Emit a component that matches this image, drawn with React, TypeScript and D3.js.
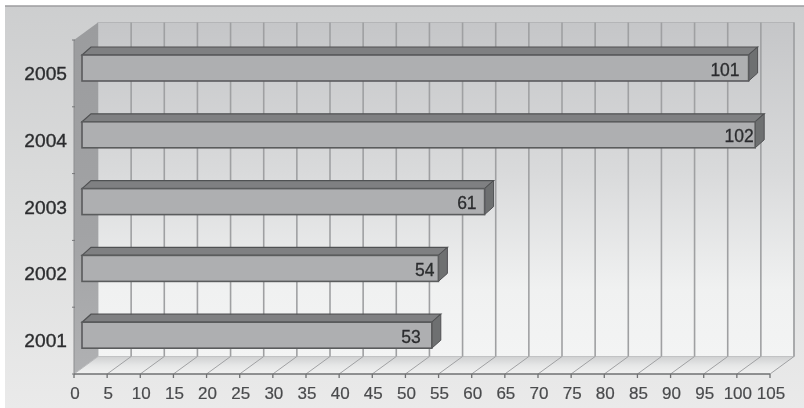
import React from "react";
import * as d3 from "d3";

const years = ["2005", "2004", "2003", "2002", "2001"];
const values = [101, 102, 61, 54, 53];
const xTicks = d3.range(0, 110, 5);

const W = 804, H = 408;
const x0 = 74, x1 = 770, yTop = 40, yBot = 374;
const dx = 24, dy = -17.5;
const barDx = 9, barDy = -8;

export default function App() {
  const x = d3.scaleLinear().domain([0, 105]).range([x0, x1]);
  const barX = d3.scaleLinear().domain([0, 105]).range([82, 775]);
  const y = d3.scaleBand<string>().domain(years).range([yTop, yBot]);
  const band = y.bandwidth();
  const font = "'Liberation Sans', Arial, sans-serif";
  const gridColor = "#9fa0a2";
  const labelInset: Record<string, number> = { "2005": 9, "2004": 1.5, "2003": 8, "2002": 4, "2001": 11 };
  const poly = (p: number[][]) => p.map(q => q.join(",")).join(" ");
  return (
    <svg width={W} height={H} viewBox={`0 0 ${W} ${H}`} style={{ position: "absolute", left: 0, top: 0, display: "block" }}>
      <defs>
        <linearGradient id="panel" x1="0" x2="0" y1="0" y2="1">
          <stop offset="0" stopColor="#cdcecf" />
          <stop offset="0.5" stopColor="#dcdddd" />
          <stop offset="1" stopColor="#eaeaea" />
        </linearGradient>
        <linearGradient id="wall" x1="0" x2="0" y1="0" y2="1">
          <stop offset="0" stopColor="#c5c6c8" />
          <stop offset="0.45" stopColor="#d9dadb" />
          <stop offset="0.8" stopColor="#f0f1f1" />
          <stop offset="1" stopColor="#f3f4f4" />
        </linearGradient>
        <linearGradient id="side" x1="0" x2="0" y1="0" y2="1">
          <stop offset="0" stopColor="#9b9c9e" />
          <stop offset="0.6" stopColor="#a2a3a5" />
          <stop offset="1" stopColor="#b0b1b3" />
        </linearGradient>
        <linearGradient id="floor" x1="0" x2="0" y1="0" y2="1">
          <stop offset="0" stopColor="#cfd0d1" />
          <stop offset="0.5" stopColor="#e6e7e7" />
          <stop offset="1" stopColor="#f1f1f1" />
        </linearGradient>
        <filter id="soft" x="-2%" y="-2%" width="104%" height="104%">
          <feGaussianBlur stdDeviation="0.7" />
        </filter>
      </defs>
      <rect x={0} y={0} width={W} height={H} fill="#ffffff" />
      <g filter="url(#soft)">
        <rect x={5} y={6} width={W - 5} height={H - 6} fill="url(#panel)" />
        <line x1={5} x2={W} y1={6} y2={6} stroke="#9c9d9f" strokeWidth={1.5} />

        <rect x={x0 + dx} y={yTop + dy} width={x1 - x0} height={yBot - yTop} fill="url(#wall)" stroke="#b4b5b7" strokeWidth={1} />
        <polygon points={poly([[x0, yTop], [x0 + dx, yTop + dy], [x0 + dx, yBot + dy], [x0, yBot]])} fill="url(#side)" />
        <polygon points={poly([[x0, yBot], [x0 + dx, yBot + dy], [x1 + dx, yBot + dy], [x1, yBot]])} fill="url(#floor)" />

        {xTicks.map(t => (
          <g key={t}>
            {t > 0 && <line x1={x(t) + dx} x2={x(t) + dx} y1={yTop + dy} y2={yBot + dy} stroke={gridColor} strokeWidth={1.6} />}
            <line x1={x(t)} x2={x(t) + dx} y1={yBot} y2={yBot + dy} stroke={t === 0 ? "#b8b9bb" : "#a0a1a3"} strokeWidth={1} />
            <line x1={x(t)} x2={x(t)} y1={yBot} y2={yBot + 4} stroke="#6f7072" strokeWidth={1.3} />
            <text x={x(t) + 1} y={399} textAnchor="middle" fontFamily={font} fontSize={17} fill="#4a4b4d" stroke="#4a4b4d" strokeWidth={0.2}>{t}</text>
          </g>
        ))}
        <line x1={x0} x2={x1} y1={yBot} y2={yBot} stroke="#6f7072" strokeWidth={1.3} />
        <line x1={x0} x2={x0} y1={yTop} y2={yBot} stroke="#8c8d8f" strokeWidth={1} />

        {years.map((yr) => {
          const top = (y(yr) as number);
          return (
            <g key={yr}>
              <line x1={x0 - 2} x2={x0 + 1} y1={top} y2={top} stroke="#77787a" />
              <text x={67} y={top + band / 2 + 6.5} textAnchor="end" fontFamily={font} fontSize={19.2} fill="#2c2d2f" stroke="#2c2d2f" strokeWidth={0.35}>{yr}</text>
            </g>
          );
        })}
        <line x1={x0 - 2} x2={x0 + 1} y1={yBot} y2={yBot} stroke="#77787a" />

        {years.map((yr, i) => {
          const bTop = (y(yr) as number) + 15;
          const bH = 26;
          const l = barX(0), r = barX(values[i]);
          return (
            <g key={yr}>
              <polygon points={poly([[l, bTop], [l + barDx, bTop + barDy], [r + barDx, bTop + barDy], [r, bTop]])} fill="#7f8082" stroke="#505153" strokeWidth={1.2} />
              <polygon points={poly([[r, bTop], [r + barDx, bTop + barDy], [r + barDx, bTop + bH + barDy], [r, bTop + bH]])} fill="#6e6f71" stroke="#505153" strokeWidth={1} />
              <rect x={l} y={bTop} width={r - l} height={bH} fill="#aeafb1" stroke="#5a5b5d" strokeWidth={1.6} />
              <text x={r - labelInset[yr]} y={bTop + 20.5} textAnchor="end" fontFamily={font} fontSize={17.5} fill="#2c2d2f" stroke="#2c2d2f" strokeWidth={0.3}>{values[i]}</text>
            </g>
          );
        })}
      </g>
    </svg>
  );
}
